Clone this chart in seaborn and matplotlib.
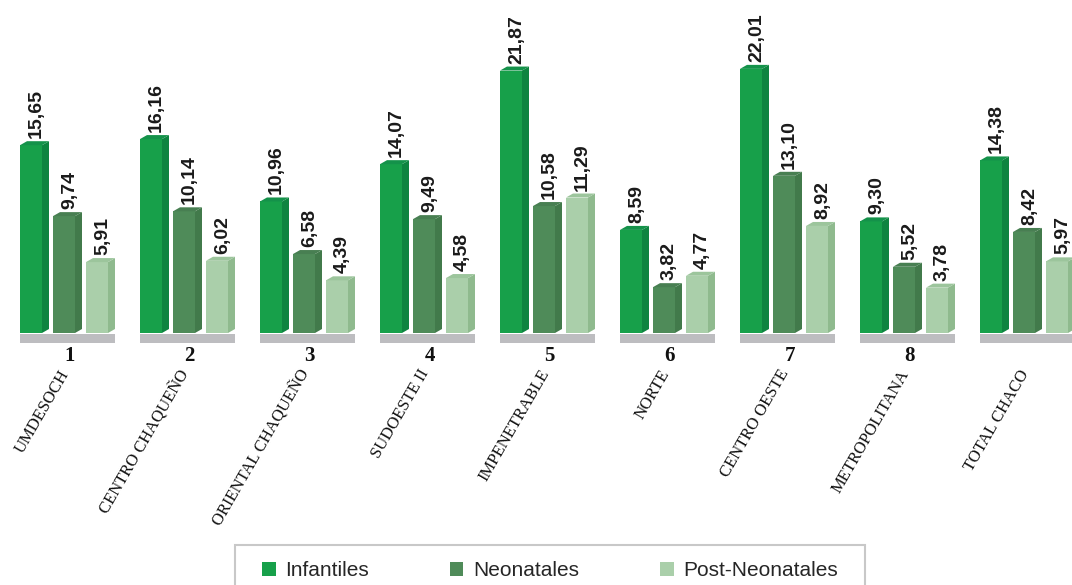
import matplotlib
matplotlib.use("Agg")
import matplotlib.pyplot as plt
import seaborn as sns
import pandas as pd
from matplotlib.patches import Polygon, Rectangle, Patch

regions = ["UMDESOCH", "CENTRO CHAQUEÑO", "ORIENTAL CHAQUEÑO", "SUDOESTE II",
           "IMPENETRABLE", "NORTE", "CENTRO OESTE", "METROPOLITANA", "TOTAL CHACO"]
region_numbers = ["1", "2", "3", "4", "5", "6", "7", "8", ""]
series = ["Infantiles", "Neonatales", "Post-Neonatales"]
infantiles = [15.65, 16.16, 10.96, 14.07, 21.87, 8.59, 22.01, 9.30, 14.38]
neonatales = [9.74, 10.14, 6.58, 9.49, 10.58, 3.82, 13.10, 5.52, 8.42]
post_neonatales = [5.91, 6.02, 4.39, 4.58, 11.29, 4.77, 8.92, 3.78, 5.97]

front_colors = ["#17a04a", "#4f8b59", "#aacfaa"]
side_colors = ["#0e8440", "#427a4b", "#8fba8e"]
top_colors = ["#14924a", "#487f52", "#9cc59c"]

df = pd.DataFrame({
    "region": regions * 3,
    "serie": [s for s in series for _ in regions],
    "valor": infantiles + neonatales + post_neonatales,
})

sns.set_theme(style="white")
plt.rcParams['font.family'] = ['Liberation Sans', 'DejaVu Sans']

W, H = 1072, 585
fig = plt.figure(figsize=(W / 100, H / 100), dpi=100)
ax = fig.add_axes([0, 1 - 345 / H, 1, 345 / H])

sns.barplot(data=df, x="region", y="valor", hue="serie", order=regions,
            hue_order=series, palette=front_colors, width=0.825, gap=0,
            saturation=1, legend=False, ax=ax, linewidth=0, edgecolor="none")

px_x = 1 / 120.0   # data units per pixel in x
px_y = 1 / 12.0    # data units per pixel in y
dx = 7 * px_x
dy = 4 * px_y

for k, cont in enumerate(ax.containers):
    for p in cont.patches:
        x = p.get_x()
        w = p.get_width()
        h = p.get_height()
        fw = w * 22 / 33
        p.set_width(fw)
        p.set_facecolor(front_colors[k])
        side = Polygon([(x + fw, 0), (x + fw + dx, dy), (x + fw + dx, h + dy), (x + fw, h)],
                       closed=True, facecolor=side_colors[k], edgecolor="none")
        top = Polygon([(x, h), (x + dx, h + dy), (x + fw + dx, h + dy), (x + fw, h)],
                      closed=True, facecolor=top_colors[k], edgecolor="none")
        ax.add_patch(side)
        ax.add_patch(top)
        ax.text(x + (fw + dx) / 2 + 2 * px_x, h + dy + 3 * px_y,
                f"{h:.2f}".replace(".", ","),
                rotation=90, ha="center", va="bottom", fontsize=14,
                fontweight="bold", color="#1a1a1a")

# floor under each group
for i in range(len(regions)):
    ax.add_patch(Rectangle((i - 0.4125, -10 * px_y), 95 * px_x, 9 * px_y,
                           facecolor="#bdbdc0", edgecolor="none", clip_on=False))

ax.set_xlim(-69.5 / 120, (W - 69.5) / 120)
ax.set_ylim(-12 * px_y, 333 * px_y)
for s in ax.spines.values():
    s.set_visible(False)
ax.set_yticks([])
ax.set_xticks(range(len(regions)))
ax.set_xticklabels(region_numbers, fontsize=15, fontweight="bold",
                   family="Liberation Serif", color="#111111")
ax.tick_params(axis="x", length=0, pad=1)
ax.set_xlabel("")
ax.set_ylabel("")

for i, name in enumerate(regions):
    ax.text(i - 0.09, -34 * px_y, name, rotation=60, ha="right", va="top",
            rotation_mode="anchor", fontsize=12, family="Liberation Serif",
            color="#111111", clip_on=False)

# legend
fig.patches.append(Rectangle((235 / W, -0.05), (865 - 235) / W, 1 - 545 / H + 0.05,
                             transform=fig.transFigure, facecolor="none",
                             edgecolor="#c8c8c8", linewidth=1.5))
handles = [Patch(facecolor=c, edgecolor="none", label=s) for c, s in zip(front_colors, series)]
fig.legend(handles=handles, loc="center left", bbox_to_anchor=(262 / W, 1 - 571 / H),
           ncol=3, frameon=False, fontsize=15, handlelength=0.65, handleheight=0.65,
           handletextpad=0.45, columnspacing=3.9, borderpad=0, borderaxespad=0)

fig.savefig("out.png", dpi=100, facecolor="white")
